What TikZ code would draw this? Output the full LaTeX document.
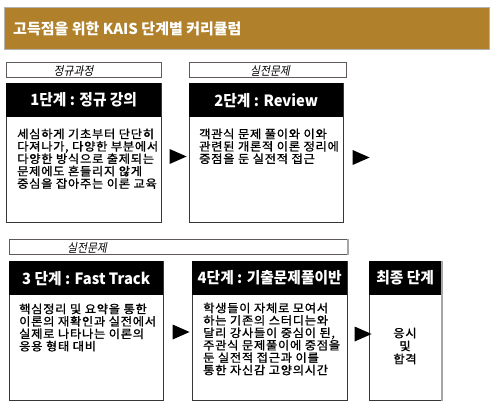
\documentclass[tikz,border=0pt]{standalone}
\usepackage{fontspec}
\setmainfont{Noto Sans CJK KR}
\newfontfamily\tagfont[FakeSlant=0.2,FakeStretch=0.9]{Noto Sans CJK KR}
\newfontfamily\headfont[FakeStretch=0.95]{Noto Sans CJK KR}
\newfontfamily\bodyfont[FakeBold=1.2,FakeStretch=1.06,LetterSpace=6]{Noto Sans CJK KR}
\usetikzlibrary{positioning, shapes.geometric}

\definecolor{titlegold}{RGB}{176,128,42}
\definecolor{edgegrey}{RGB}{55,55,55}
\definecolor{tagedge}{RGB}{95,90,88}

\tikzset{
  tagbox/.style={draw=tagedge, line width=0.9pt, minimum height=15, anchor=north west, inner sep=0},
  tagtext/.style={font=\tagfont\fontsize{12}{14}\selectfont, inner sep=0},
  stagebox/.style={draw=edgegrey, line width=0.9pt, minimum height=139, anchor=north west, inner sep=0},
  stagehead/.style={fill=black, minimum height=34, anchor=north west, inner sep=0,
    text=white, font=\headfont\bfseries\fontsize{15.5}{18}\selectfont},
  stagetext/.style={font=\bodyfont\fontsize{11.6}{12.4}\selectfont, align=left, anchor=north west, inner sep=0},
  nextarrow/.style={isosceles triangle, isosceles triangle stretches, fill=black,
    minimum width=15, minimum height=17, inner sep=0}
}

\begin{document}
\begin{tikzpicture}[x=1pt, y=-1pt]
  \useasboundingbox (0,0) rectangle (503,414);
  % title bar
  \node[fill=titlegold, draw=gray!60, line width=0.8pt, minimum width=485, minimum height=42,
    anchor=north west, inner sep=0] (title) at (4,7) {};
  \node[anchor=west, text=white, inner sep=0, font=\bfseries\fontsize{15}{17}\selectfont]
    (titletext) at (13,29) {고득점을 위한 KAIS 단계별 커리큘럼};

  % first row
  \node[tagbox, minimum width=155] (tag1) at (6,62) {};
  \node[tagtext] (tag1text) at (73.5,71) {정규과정};
  \node[tagbox, minimum width=157] (tag2) at (189,62) {};
  \node[tagtext] (tag2text) at (270,71) {실전문제};

  \node[stagebox, minimum width=155] (stage1) at (6,83) {};
  \node[stagehead, minimum width=155] (head1) at (stage1.north west) {1단계 : 정규 강의};
  \node[stagetext] (text1) at (17,128.5) {세심하게 기초부터 단단히\\다져나가, 다양한 부분에서\\다양한 방식으로 출제되는\\문제에도 흔들리지 않게\\중심을 잡아주는 이론 교육};

  \node[stagebox, minimum width=154] (stage2) at (189,83) {};
  \node[stagehead, minimum width=154] (head2) at (stage2.north west) {2단계 : Review};
  \node[stagetext] (text2) at (199,128.5) {객관식 문제 풀이와 이와\\관련된 개론적 이론 정리에\\중점을 둔 실전적 접근};

  \node[nextarrow] (arrow1) at (174.5,156.5) {};
  \node[nextarrow] (arrow2) at (357.5,157.5) {};

  % second row
  \node[tagbox, minimum width=338] (tag3) at (9,239) {};
  \node[tagtext] (tag3text) at (87,248) {실전문제};
  \draw[gray!70, line width=1.4pt] (tag3.north east) -- (tag3.south east);

  \node[stagebox, minimum width=154] (stage3) at (9,261) {};
  \node[stagehead, minimum width=154] (head3) at (stage3.north west) {3 단계 : Fast Track};
  \node[stagetext] (text3) at (19,303.5) {핵심정리 및 요약을 통한\\이론의 재확인과 실전에서\\실제로 나타나는 이론의\\응용 형태 대비};

  \node[stagebox, minimum width=155] (stage4) at (192,261) {};
  \node[stagehead, minimum width=155] (head4) at (stage4.north west) {4단계 : 기출문제풀이반};
  \node[stagetext] (text4) at (203,302.5) {학생들이 자체로 모여서\\하는 기존의 스터디는와\\달리 강사들이 중심이 된,\\주관식 문제풀이에 중점을\\둔 실전적 접근과 이를\\통한 자신감 고양의시간};

  \node[stagebox, minimum width=72] (stage5) at (369,261) {};
  \draw[gray!70, line width=1.4pt] (stage5.north east) -- (stage5.south east);
  \node[stagehead, minimum width=72] (head5) at (stage5.north west) {최종 단계};
  \node[font=\bodyfont\fontsize{11.6}{13}\selectfont, align=center, inner sep=0] (text5) at (405,346) {응시\\및\\합격};

  \node[nextarrow] (arrow3) at (177.5,332) {};
  \node[nextarrow] (arrow4) at (359.5,334) {};
\end{tikzpicture}
\end{document}
